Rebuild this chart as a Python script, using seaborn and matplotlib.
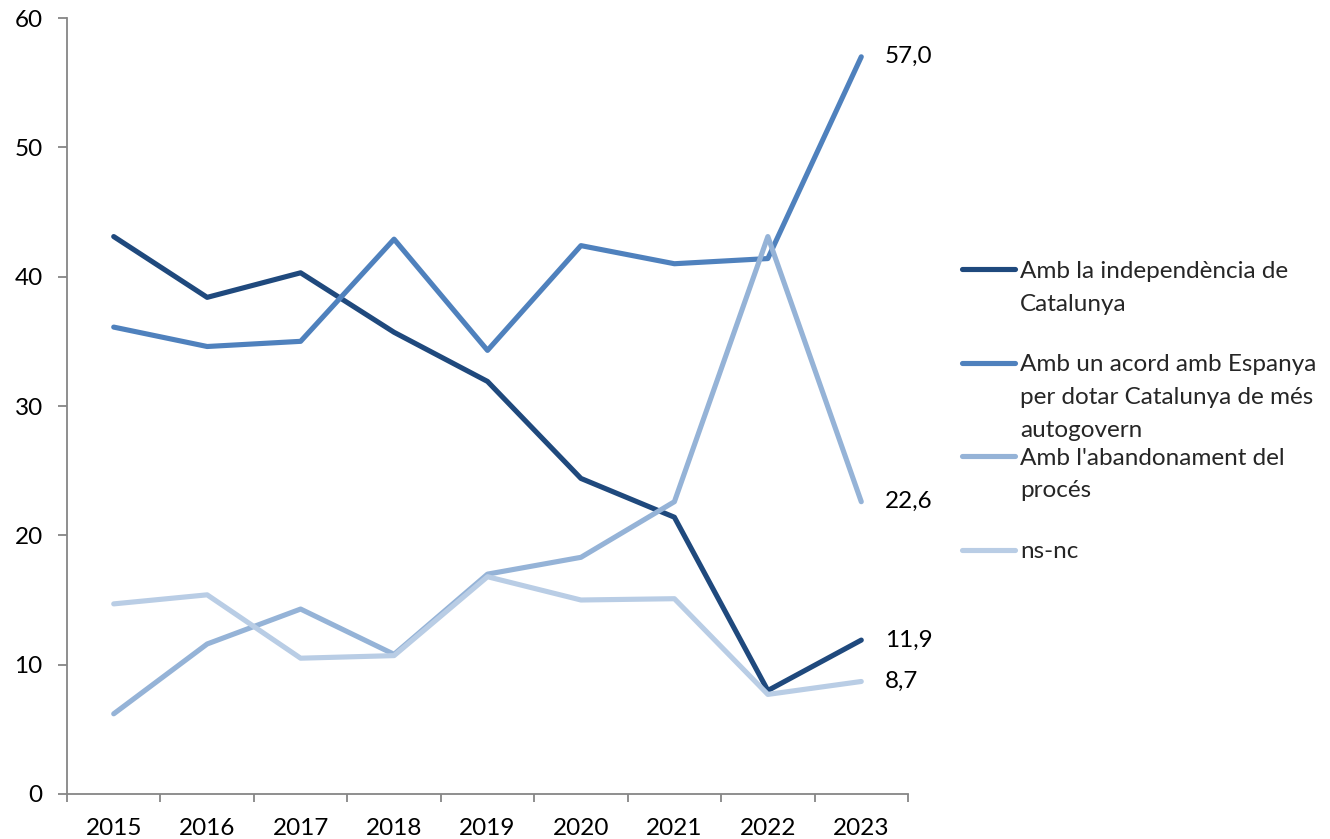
import numpy as np
import pandas as pd
import matplotlib
matplotlib.use("Agg")
import matplotlib.pyplot as plt
import seaborn as sns
from matplotlib.legend_handler import HandlerLine2D
from matplotlib.lines import Line2D
from matplotlib.ticker import FixedLocator

years = ["2015", "2016", "2017", "2018", "2019", "2020", "2021", "2022", "2023"]
series_names = [
    "Amb la independència de Catalunya",
    "Amb un acord amb Espanya per dotar Catalunya de més autogovern",
    "Amb l'abandonament del procés",
    "ns-nc",
]
legend_labels = [
    "Amb la independència de\nCatalunya\n",
    "Amb un acord amb Espanya\nper dotar Catalunya de més\nautogovern",
    "Amb l'abandonament del\nprocés\n",
    "ns-nc\n\n",
]
independencia = [43.1, 38.4, 40.3, 35.7, 31.9, 24.4, 21.4, 8.0, 11.9]
acord = [36.1, 34.6, 35.0, 42.9, 34.3, 42.4, 41.0, 41.4, 57.0]
abandonament = [6.2, 11.6, 14.3, 10.8, 17.0, 18.3, 22.6, 43.1, 22.6]
nsnc = [14.7, 15.4, 10.5, 10.7, 16.8, 15.0, 15.1, 7.7, 8.7]
end_labels = ["11,9", "57,0", "22,6", "8,7"]
colors = ["#1F497D", "#4F81BD", "#95B3D7", "#B9CDE5"]

values = [independencia, acord, abandonament, nsnc]
df = pd.DataFrame({
    "year": np.tile(np.arange(len(years)), len(series_names)),
    "serie": np.repeat(series_names, len(years)),
    "valor": np.concatenate(values),
})

sns.set_theme(style="white")
plt.rcParams["font.family"] = ["Lato", "DejaVu Sans"]
FS = 17.5

fig = plt.figure(figsize=(13.3, 8.39), dpi=100)
ax = fig.add_axes([67 / 1330, 45 / 839, (908 - 67) / 1330, (794 - 18) / 839])

sns.lineplot(data=df, x="year", y="valor", hue="serie", hue_order=series_names,
             palette=colors, linewidth=3.7, ax=ax, legend=False,
             solid_capstyle="round", solid_joinstyle="round")

ax.set_xlim(-0.5, len(years) - 0.5)
ax.set_ylim(0, 60)
ax.set_yticks(np.arange(0, 61, 10))
ax.set_yticklabels([str(v) for v in range(0, 61, 10)], fontsize=FS, color="black")
ax.set_xticks(np.arange(len(years)))
ax.set_xticklabels(years, fontsize=FS, color="black")
ax.xaxis.set_minor_locator(FixedLocator(np.arange(-0.5, len(years), 1.0)))
ax.tick_params(axis="x", which="major", length=0, pad=17)
ax.tick_params(axis="x", which="minor", length=6, width=1.3, color="#868686", bottom=True)
ax.tick_params(axis="y", which="major", length=6.5, width=1.3, color="#868686", left=True, pad=11)
ax.set_xlabel("")
ax.set_ylabel("")
for s in ["top", "right"]:
    ax.spines[s].set_visible(False)
for s in ["left", "bottom"]:
    ax.spines[s].set_color("#868686")
    ax.spines[s].set_linewidth(1.3)
ax.grid(False)

# end-of-series value labels
for vals, lab in zip(values, end_labels):
    ax.annotate(lab, xy=(len(years) - 1, vals[-1]), xytext=(17, 0),
                textcoords="offset points", va="center", ha="left",
                fontsize=FS, color="black")


class TopHandler(HandlerLine2D):
    def __init__(self, offset, **kw):
        super().__init__(**kw)
        self.offset = offset

    def create_artists(self, legend, orig_handle, xdescent, ydescent, width,
                       height, fontsize, trans):
        arts = super().create_artists(legend, orig_handle, xdescent, ydescent,
                                      width, height, fontsize, trans)
        for a in arts:
            a.set_ydata(np.asarray(a.get_ydata()) + self.offset)
        return arts


handles = [Line2D([], [], color=c, lw=3.7, solid_capstyle="round") for c in colors]
off = 25.0
leg = fig.legend(handles, legend_labels, loc="upper left",
                 bbox_to_anchor=(962 / 1330, 1 - 261 / 839),
                 frameon=False, fontsize=FS, borderpad=0, borderaxespad=0,
                 handlelength=2.2, handletextpad=0.18, labelspacing=0.3,
                 handler_map={h: TopHandler(off) for h in handles})
for t in leg.get_texts():
    t.set_linespacing(1.68)

fig.savefig("out.png", dpi=100)
